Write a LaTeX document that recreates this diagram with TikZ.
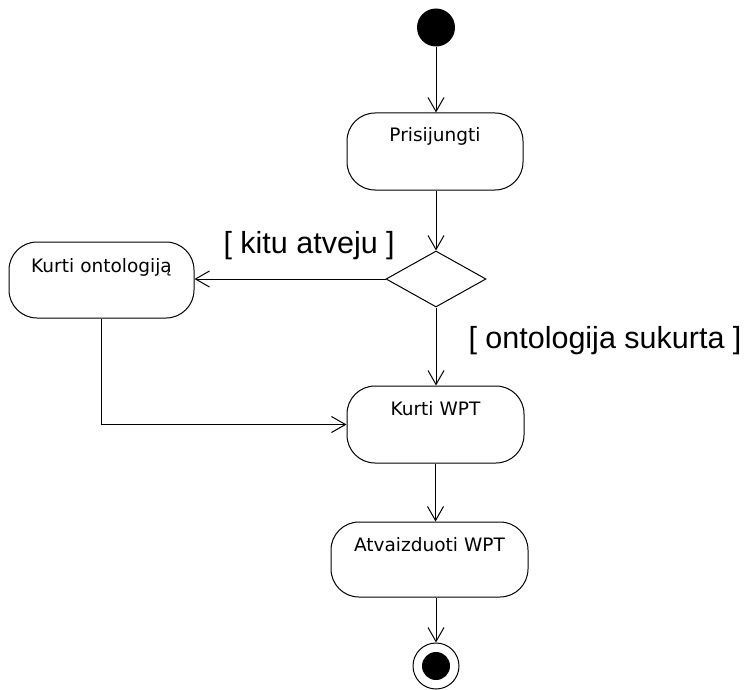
\documentclass[tikz,border=0pt]{standalone}
\usepackage{fontspec}
\setmainfont{Liberation Sans}
\newfontfamily\boxfont{DejaVu Sans}
\usetikzlibrary{arrows.meta,shapes.geometric}

\begin{document}
\begin{tikzpicture}[x=1pt,y=-1pt,line width=1pt,
  activity/.style={draw,rounded corners=28pt,inner sep=0pt,align=center,
    font=\boxfont\fontsize{18.5}{20}\selectfont},
  decision/.style={draw,diamond,inner sep=0pt,minimum width=100pt,minimum height=56pt},
  guard/.style={anchor=base west,inner sep=0pt,font=\fontsize{30.5}{34}\selectfont},
  flow/.style={-{Straight Barb[length=14pt,width=16pt]}},
  initial/.style={circle,fill=black,inner sep=0pt,minimum size=38pt},
  final/.style={circle,draw,inner sep=0pt,minimum size=46pt,
    path picture={\fill[black] (path picture bounding box.center) circle[radius=14pt];}}]

\useasboundingbox (0,0) rectangle (755,690);

% start and end states
\node[initial] (start) at (436,27.5) {};
\node[final] (end) at (436,666) {};

% activities: text sits near the top of each box
\node[activity,text width=176pt,text height=29pt,text depth=48pt] (pris) at (435,151.5) {Prisijungti};
\node[activity,text width=185pt,text height=30pt,text depth=46pt] (ont) at (101.5,280) {Kurti ontologiją};
\node[activity,text width=177pt,text height=29pt,text depth=48pt] (wpt) at (435.5,424.5) {Kurti WPT};
\node[activity,text width=197pt,text height=29pt,text depth=46pt] (atv) at (429.5,559.5) {Atvaizduoti WPT};

% branching point
\node[decision] (dec) at (436,279) {};

% guard conditions
\node[guard] (gk) at (223,253) {[ kitu atveju ]};
\node[guard] (go) at (468,348) {[ ontologija sukurta ]};

% control flows
\draw[flow] (start) -- (start |- pris.north);
\draw[flow] (dec.north |- pris.south) -- (dec.north);
\draw[flow] (dec.west) -- (dec.west -| ont.east);
\draw[flow] (dec.south) -- (dec.south |- wpt.north);
\draw[flow] (ont.south) |- (wpt.west);
\draw[flow] (wpt.south) -- (wpt.south |- atv.north);
\draw[flow] (end |- atv.south) -- (end.north);
\end{tikzpicture}
\end{document}
